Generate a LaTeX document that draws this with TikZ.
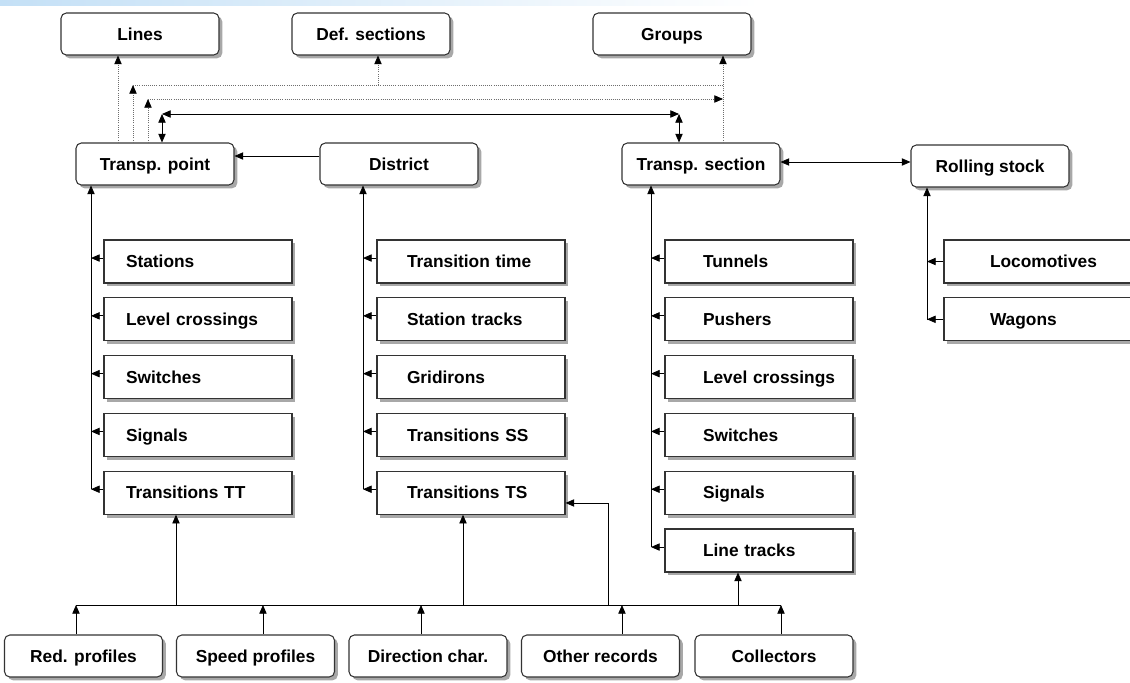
\documentclass[tikz,border=0pt]{standalone}
\usepackage{fontspec}
\setmainfont{Liberation Sans}
\usetikzlibrary{arrows.meta,shadows}
\definecolor{BandBlue}{HTML}{C4E0F6}
\definecolor{BoxLine}{HTML}{333333}
\definecolor{ShadowGray}{HTML}{999999}
\definecolor{DotGray}{HTML}{6E6E6E}

\tikzset{
  card/.style={draw=BoxLine,fill=white,rounded corners=4pt,line width=0.8pt,
    minimum width=118.5pt,minimum height=31.5pt,inner sep=0pt,
    text height=10pt,text depth=0.7pt,
    drop shadow={shadow xshift=2.5pt,shadow yshift=-2.5pt,fill=ShadowGray,opacity=0.85}},
  leaf/.style={draw=BoxLine,fill=white,line width=0.8pt,
    text width=135pt,align=left,inner xsep=3pt,minimum height=32.25pt,
    text height=10pt,text depth=0.7pt,
    drop shadow={shadow xshift=2.5pt,shadow yshift=-2.5pt,fill=ShadowGray,opacity=0.85},
    execute at begin node={\hspace*{#1}}},
  tip/.style={-{Triangle[length=6.5pt,width=5.5pt,color=black]}},
  link/.style={line width=0.6pt,tip},
  wire/.style={line width=0.6pt},
  both/.style={line width=0.6pt,{Triangle[length=6.5pt,width=5.5pt]}-{Triangle[length=6.5pt,width=5.5pt]}},
  dots/.style={DotGray,densely dotted,line width=0.6pt},
}

\begin{document}
\begin{tikzpicture}[x=0.75pt,y=-0.75pt,
    every node/.append style={font=\fontsize{13}{15}\selectfont\bfseries}]
  \useasboundingbox (0,0) rectangle (1130,682);
  \shade[left color=BandBlue,right color=white] (0,0) rectangle (760,5);

  % top and middle rows
  \node[card] (lines) at (140,34) {Lines};
  \node[card] (defsec) at (371,34) {Def. sections};
  \node[card] (groups) at (672,34) {Groups};
  \node[card] (tpoint) at (155,164) {Transp. point};
  \node[card] (district) at (399,164) {District};
  \node[card] (tsection) at (701,164) {Transp. section};
  \node[card] (rstock) at (990,166) {Rolling stock};

  % leaf columns
  \foreach \t [count=\i] in {Stations, Level crossings, Switches, Signals, Transitions TT}
    \node[leaf=13.5pt] (tp\i) at (198,{203.7+57.8*\i}) {\t};
  \foreach \t [count=\i] in {Transition time, Station tracks, Gridirons, Transitions SS, Transitions TS}
    \node[leaf=19.5pt] (di\i) at (471,{203.7+57.8*\i}) {\t};
  \foreach \t [count=\i] in {Tunnels, Pushers, Level crossings, Switches, Signals, Line tracks}
    \node[leaf=25.5pt] (ts\i) at (759,{203.7+57.8*\i}) {\t};
  \foreach \t [count=\i] in {Locomotives, Wagons}
    \node[leaf=31.5pt] (rs\i) at (1038,{203.7+57.8*\i}) {\t};

  % bottom row
  \node[card] (rp) at (83.5,656) {Red. profiles};
  \node[card] (sp) at (255.5,656) {Speed profiles};
  \node[card] (dc) at (428,656) {Direction char.};
  \node[card] (orr) at (600.5,656) {Other records};
  \node[card] (co) at (774,656) {Collectors};

  % links above the middle row
  \coordinate (ra) at (133,85);
  \coordinate (rb) at (148,99);
  \coordinate (ca) at (162,114);
  \coordinate (cb) at (679,114);
  \coordinate (gk) at (723,85);
  \draw[dots,tip] ([xshift=-27.75pt]tpoint.north) -- ([xshift=-27.75pt]tpoint.north |- lines.south);
  \draw[dots,tip] (ra |- tpoint.north) -- (ra);
  \draw[dots] (ra) -- (gk);
  \draw[dots,tip] ([xshift=5.25pt]defsec.south |- ra) -- ([xshift=5.25pt]defsec.south);
  \draw[dots,tip] (gk |- tsection.north) -- (gk |- groups.south);
  \draw[dots,tip] (rb |- tpoint.north) -- (rb);
  \draw[dots,tip] (rb) -- (rb -| gk);
  \draw[both] (ca |- tpoint.north) -- (ca);
  \draw[both] (ca) -- (cb);
  \draw[both] (cb) -- (cb |- tsection.north);
  \draw[link] ([yshift=6pt]district.west) -- ([yshift=6pt]district.west -| tpoint.east);
  \draw[both] ([yshift=1.5pt]tsection.east) -- ([yshift=1.5pt]tsection.east -| rstock.west);

  % trunks
  \coordinate (tpk) at (91,489);
  \coordinate (dik) at (363,489);
  \coordinate (tsk) at (651,547);
  \coordinate (rsk) at (927,320);
  \draw[link] (tpk) -- (tpk |- tpoint.south);
  \draw[link] (dik) -- (dik |- district.south);
  \draw[link] (tsk) -- (tsk |- tsection.south);
  \draw[link] (rsk) -- (rsk |- rstock.south);
  \foreach \i in {1,...,5} {
    \draw[link] ([yshift=2.6pt]tp\i.west) -- ([yshift=2.6pt]tp\i.west -| tpk);
    \draw[link] ([yshift=2.6pt]di\i.west) -- ([yshift=2.6pt]di\i.west -| dik);
  }
  \foreach \i in {1,...,6}
    \draw[link] ([yshift=2.6pt]ts\i.west) -- ([yshift=2.6pt]ts\i.west -| tsk);
  \foreach \i in {1,2}
    \draw[link] (rs\i.west) -- (rs\i.west -| rsk);

  % bus below
  \coordinate (busl) at (76,605);
  \coordinate (busr) at (781,605);
  \coordinate (fb) at (608,605);
  \draw[wire] (busl) -- (busr);
  \draw[link] (busl |- rp.north) -- (busl);
  \draw[link] ([xshift=5.6pt]sp.north) -- ([xshift=5.6pt]sp.north |- busl);
  \draw[link] ([xshift=-5.25pt]dc.north) -- ([xshift=-5.25pt]dc.north |- busl);
  \draw[link] ([xshift=16.1pt]orr.north) -- ([xshift=16.1pt]orr.north |- busl);
  \draw[link] (busr |- co.north) -- (busr);
  \draw[link] ([xshift=-16.5pt]tp5.south |- busl) -- ([xshift=-16.5pt]tp5.south);
  \draw[link] ([xshift=-6pt]di5.south |- busl) -- ([xshift=-6pt]di5.south);
  \draw[link] ([xshift=-15.75pt]ts6.south |- busl) -- ([xshift=-15.75pt]ts6.south);
  \draw[link] (fb) |- ([yshift=-7.7pt]di5.east);
\end{tikzpicture}
\end{document}
